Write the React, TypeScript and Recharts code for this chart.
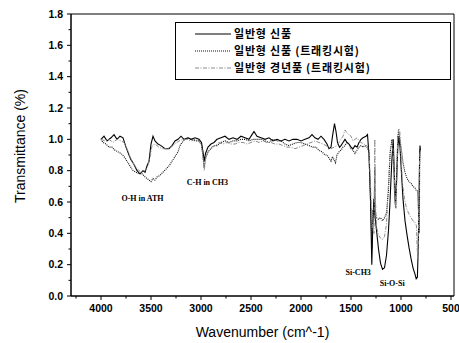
import React from 'react';
import { LineChart, Line, XAxis, YAxis, ReferenceArea, ReferenceDot, Legend } from 'recharts';

// wavenumber (cm^-1), transmittance
const newSample: [number, number][] = [
  [4000, 1.0], [3970, 1.02], [3940, 0.99], [3900, 1.01], [3870, 1.03], [3840, 1.0], [3810, 1.02], [3780, 1.01],
  [3750, 0.95], [3720, 0.9], [3700, 0.87], [3670, 0.84], [3640, 0.8], [3610, 0.78], [3580, 0.8], [3560, 0.79],
  [3540, 0.83], [3520, 0.86], [3500, 0.97], [3480, 1.02], [3460, 0.99], [3430, 0.97], [3400, 0.96], [3360, 0.94],
  [3320, 0.94], [3290, 0.96], [3260, 0.99], [3230, 1.0], [3200, 1.02], [3170, 1.0], [3130, 1.01], [3100, 1.0],
  [3060, 1.01], [3020, 1.0], [2995, 0.98], [2980, 0.92], [2968, 0.86], [2955, 0.91], [2930, 0.95], [2900, 0.97],
  [2870, 0.98], [2840, 1.0], [2800, 1.01], [2760, 1.02], [2720, 1.0], [2680, 1.01], [2640, 1.0], [2600, 1.02],
  [2560, 1.01], [2520, 1.0], [2490, 1.03], [2470, 1.05], [2440, 1.02], [2400, 1.01], [2360, 1.0], [2320, 1.01],
  [2280, 0.99], [2240, 1.0], [2200, 0.99], [2160, 1.0], [2120, 0.99], [2080, 1.0], [2040, 1.0], [2000, 0.99],
  [1960, 1.0], [1920, 1.01], [1890, 1.03], [1860, 1.01], [1830, 1.0], [1800, 1.02], [1770, 1.0], [1740, 0.97],
  [1720, 0.94], [1700, 0.95], [1685, 1.02], [1665, 1.1], [1650, 1.05], [1635, 0.98], [1615, 0.95], [1600, 0.96],
  [1580, 0.98], [1560, 1.0], [1540, 0.98], [1520, 0.97], [1500, 0.95], [1480, 0.94], [1460, 0.96], [1440, 0.95],
  [1420, 0.98], [1400, 1.0], [1380, 1.01], [1350, 1.02], [1335, 1.03], [1320, 0.9], [1305, 0.62], [1292, 0.2],
  [1282, 0.45], [1272, 0.62], [1262, 0.52], [1245, 0.42], [1225, 0.3], [1205, 0.21], [1185, 0.17], [1165, 0.18],
  [1145, 0.26], [1125, 0.42], [1110, 0.6], [1092, 0.86], [1078, 1.0], [1065, 0.75], [1055, 0.6], [1045, 0.72],
  [1032, 0.95], [1022, 1.02], [1010, 0.95], [995, 0.78], [980, 0.62], [960, 0.48], [940, 0.39], [920, 0.31],
  [900, 0.24], [880, 0.18], [860, 0.14], [848, 0.11], [836, 0.12], [828, 0.3], [820, 0.6], [814, 0.88],
  [810, 0.96], [806, 0.93],
];

const newTracking: [number, number][] = [
  [4000, 1.0], [3980, 0.98], [3950, 0.97], [3920, 0.95], [3890, 0.95], [3860, 0.93], [3830, 0.92], [3800, 0.91],
  [3770, 0.89], [3740, 0.86], [3710, 0.83], [3680, 0.8], [3650, 0.79], [3620, 0.78], [3590, 0.78], [3560, 0.76],
  [3540, 0.75], [3520, 0.74], [3500, 0.73], [3480, 0.75], [3460, 0.74], [3440, 0.76], [3410, 0.77], [3380, 0.79],
  [3350, 0.81], [3320, 0.83], [3290, 0.86], [3260, 0.89], [3230, 0.92], [3210, 0.96], [3190, 0.98], [3160, 1.0],
  [3130, 1.01], [3100, 1.0], [3060, 0.99], [3020, 0.99], [2995, 0.97], [2980, 0.9], [2968, 0.82], [2955, 0.88],
  [2930, 0.92], [2900, 0.94], [2870, 0.96], [2840, 0.96], [2800, 0.98], [2760, 0.99], [2720, 0.98], [2680, 0.99],
  [2640, 0.99], [2600, 1.0], [2560, 1.0], [2520, 0.99], [2480, 1.0], [2440, 1.0], [2400, 1.0], [2360, 0.99],
  [2320, 0.98], [2280, 1.0], [2240, 0.99], [2200, 0.99], [2160, 0.97], [2120, 0.96], [2080, 0.97], [2040, 0.98],
  [2000, 0.98], [1960, 0.97], [1920, 0.96], [1880, 0.95], [1850, 0.95], [1820, 0.93], [1790, 0.92], [1760, 0.9],
  [1740, 0.9], [1720, 0.88], [1700, 0.86], [1685, 0.89], [1670, 0.87], [1655, 0.85], [1640, 0.9], [1620, 0.92],
  [1600, 0.93], [1580, 0.95], [1560, 0.96], [1540, 0.98], [1520, 0.97], [1500, 0.94], [1480, 0.93], [1460, 0.91],
  [1440, 0.93], [1420, 0.95], [1400, 0.96], [1380, 0.95], [1360, 0.96], [1340, 0.95], [1320, 0.92], [1305, 0.6],
  [1290, 0.3], [1280, 0.55], [1270, 0.5], [1262, 0.82], [1255, 0.52], [1245, 0.5], [1225, 0.49], [1205, 0.5],
  [1185, 0.48], [1165, 0.5], [1145, 0.53], [1125, 0.68], [1108, 0.92], [1090, 1.0], [1075, 0.85], [1062, 0.6],
  [1052, 0.56], [1042, 0.82], [1032, 1.02], [1022, 1.05], [1010, 1.0], [995, 0.93], [980, 0.85], [960, 0.79],
  [940, 0.75], [920, 0.73], [900, 0.72], [880, 0.7], [860, 0.69], [845, 0.67], [835, 0.67], [826, 0.55],
  [818, 0.4], [812, 0.92], [806, 0.94],
];

const agedTracking: [number, number][] = [
  [4000, 1.0], [3960, 0.99], [3920, 1.0], [3880, 0.98], [3840, 1.0], [3800, 0.99], [3770, 0.98], [3740, 0.94],
  [3710, 0.89], [3680, 0.85], [3650, 0.82], [3620, 0.8], [3590, 0.79], [3560, 0.8], [3530, 0.83], [3505, 0.9],
  [3490, 0.96], [3460, 0.97], [3420, 0.95], [3380, 0.94], [3340, 0.94], [3300, 0.95], [3260, 0.97], [3220, 0.99],
  [3180, 1.0], [3140, 1.0], [3100, 0.99], [3060, 1.0], [3020, 0.99], [2995, 0.96], [2980, 0.88], [2968, 0.8],
  [2955, 0.87], [2930, 0.92], [2900, 0.95], [2860, 0.96], [2820, 0.98], [2780, 0.97], [2740, 0.98], [2700, 0.97],
  [2660, 0.97], [2620, 0.98], [2580, 0.98], [2540, 0.97], [2500, 0.98], [2460, 0.99], [2420, 0.98], [2380, 0.99],
  [2340, 0.98], [2300, 0.98], [2260, 0.97], [2220, 0.97], [2180, 0.96], [2140, 0.95], [2100, 0.95], [2060, 0.94],
  [2020, 0.95], [1980, 0.96], [1940, 0.97], [1900, 0.98], [1860, 0.99], [1820, 0.98], [1780, 0.97], [1750, 0.96],
  [1720, 0.95], [1700, 0.94], [1670, 0.95], [1640, 0.96], [1610, 0.99], [1580, 1.02], [1560, 1.06], [1540, 1.04],
  [1520, 1.03], [1500, 1.02], [1480, 0.99], [1460, 1.0], [1440, 1.01], [1420, 0.99], [1400, 0.98], [1370, 0.97],
  [1340, 0.96], [1320, 0.93], [1305, 0.72], [1292, 0.5], [1280, 0.42], [1270, 0.4], [1262, 1.0], [1256, 0.62],
  [1245, 0.44], [1225, 0.39], [1205, 0.37], [1185, 0.36], [1165, 0.38], [1145, 0.46], [1125, 0.72], [1108, 0.93],
  [1090, 0.99], [1075, 0.9], [1062, 0.7], [1052, 0.56], [1042, 0.74], [1032, 1.03], [1022, 1.07], [1012, 1.05],
  [1000, 0.9], [985, 0.72], [965, 0.62], [945, 0.56], [925, 0.53], [900, 0.5], [880, 0.48], [860, 0.47],
  [846, 0.45], [838, 0.3], [830, 0.24], [822, 0.58], [814, 0.88], [808, 0.92],
];

const seriesNames = ['일반형 신품', '일반형 신품 (트래킹시험)', '일반형 경년품 (트래킹시험)'];
const seriesData = [newSample, newTracking, agedTracking];
const seriesStroke = ['#000', '#111', '#8a8a8a'];
const seriesDash = ['', '1 1', '4 1.5 1 1.5'];
const seriesWidth = [1.1, 1.1, 1];

const xTicks = [4250, 4000, 3750, 3500, 3250, 3000, 2750, 2500, 2250, 2000, 1750, 1500, 1250, 1000, 750, 500];
const yTicks = [0, 0.1, 0.2, 0.3, 0.4, 0.5, 0.6, 0.7, 0.8, 0.9, 1.0, 1.1, 1.2, 1.3, 1.4, 1.5, 1.6, 1.7, 1.8];

const notes = [
  { text: 'O-H in ATH', w: 3585, t: 0.625 },
  { text: 'C-H in CH3', w: 2936, t: 0.727 },
  { text: 'Si-CH3', w: 1428, t: 0.153 },
  { text: 'Si-O-Si', w: 1088, t: 0.083 },
];

const TICK_SIZE = 5;
const TICK_MARGIN = 3;
const SANS = '"Liberation Sans", Arial, sans-serif';

function XTick(props: any) {
  const { x, y, payload } = props;
  const major = payload.value % 500 === 0;
  const axisY = y - TICK_SIZE - TICK_MARGIN;
  return (
    <g>
      <line x1={x} x2={x} y1={axisY} y2={axisY + (major ? 4 : 2.5)} stroke="#000" />
      {major && (
        <text x={x} y={y} dy="0.75em" textAnchor="middle" fontSize={10.5} fontWeight="bold" fontFamily={SANS} fill="#000">
          {payload.value}
        </text>
      )}
    </g>
  );
}

function YTick(props: any) {
  const { x, y, payload } = props;
  const major = Math.round(payload.value * 10) % 2 === 0;
  const axisX = x + TICK_SIZE + TICK_MARGIN;
  return (
    <g>
      <line x1={axisX} x2={axisX - (major ? 4 : 2.5)} y1={y} y2={y} stroke="#000" />
      {major && (
        <text x={x} y={y} dy="0.36em" textAnchor="end" fontSize={10.5} fontWeight="bold" fontFamily={SANS} fill="#000">
          {payload.value.toFixed(1)}
        </text>
      )}
    </g>
  );
}

function LegendBox() {
  return (
    <div style={{ border: '1px solid #000', background: '#fff', width: 274, height: 54, paddingTop: 2 }}>
      {seriesNames.map((name, i) => (
        <div key={name} style={{ display: 'flex', alignItems: 'center', height: 17, marginLeft: 19 }}>
          <svg width={36} height={6}>
            <line x1={0} x2={36} y1={3} y2={3} stroke={seriesStroke[i]} strokeWidth={seriesWidth[i]} strokeDasharray={seriesDash[i]} />
          </svg>
          <span
            style={{
              marginLeft: 3,
              fontFamily: '"Noto Sans CJK KR", sans-serif',
              fontWeight: 700,
              fontSize: 11,
              letterSpacing: 0.8,
              color: '#000',
              lineHeight: '17px',
            }}
          >
            {name}
          </span>
        </div>
      ))}
    </div>
  );
}

export default function App() {
  return (
    <div style={{ position: 'absolute', left: 0, top: 0, background: '#fff' }}>
      <LineChart width={459} height={343} margin={{ top: 14, right: 5, left: 0, bottom: 0 }}>
        <XAxis
          dataKey="w"
          type="number"
          domain={[470, 4300]}
          reversed
          allowDataOverflow
          ticks={xTicks}
          interval={0}
          height={47}
          tickSize={TICK_SIZE}
          tickMargin={TICK_MARGIN}
          tickLine={false}
          tick={<XTick />}
          axisLine={{ stroke: '#000' }}
          label={{
            value: 'Wavenumber (cm^-1)',
            position: 'insideBottom',
            offset: 6,
            fontSize: 14,
            fontFamily: SANS,
            fill: '#000',
          }}
        />
        <YAxis
          type="number"
          domain={[0, 1.8]}
          ticks={yTicks}
          interval={0}
          width={71}
          tickSize={TICK_SIZE}
          tickMargin={TICK_MARGIN}
          tickLine={false}
          tick={<YTick />}
          axisLine={{ stroke: '#000' }}
          label={{
            value: 'Transmittance (%)',
            angle: -90,
            position: 'insideLeft',
            offset: 20,
            dy: -9,
            fontSize: 14,
            fontFamily: SANS,
            fill: '#000',
            style: { textAnchor: 'middle' },
          }}
        />
        <ReferenceArea x1={4300} x2={470} y1={0} y2={1.8} fill="none" stroke="#000" strokeWidth={1} />
        {seriesData.map((pairs, i) => (
          <Line
            key={seriesNames[i]}
            data={pairs.map(([w, t]) => ({ w, t }))}
            dataKey="t"
            name={seriesNames[i]}
            type="linear"
            stroke={seriesStroke[i]}
            strokeWidth={seriesWidth[i]}
            strokeDasharray={seriesDash[i] || undefined}
            dot={false}
            isAnimationActive={false}
          />
        ))}
        {notes.map((n) => (
          <ReferenceDot
            key={n.text}
            x={n.w}
            y={n.t}
            r={0}
            fill="none"
            stroke="none"
            label={{
              value: n.text,
              position: 'center',
              fontSize: 8,
              fontWeight: 'bold',
              fontFamily: '"Liberation Serif", serif',
              fill: '#000',
            }}
          />
        ))}
        <Legend
          layout="horizontal"
          verticalAlign="middle"
          align="center"
          content={<LegendBox />}
          wrapperStyle={{ left: 175, top: 22, width: 276, height: 57 }}
        />
      </LineChart>
    </div>
  );
}
